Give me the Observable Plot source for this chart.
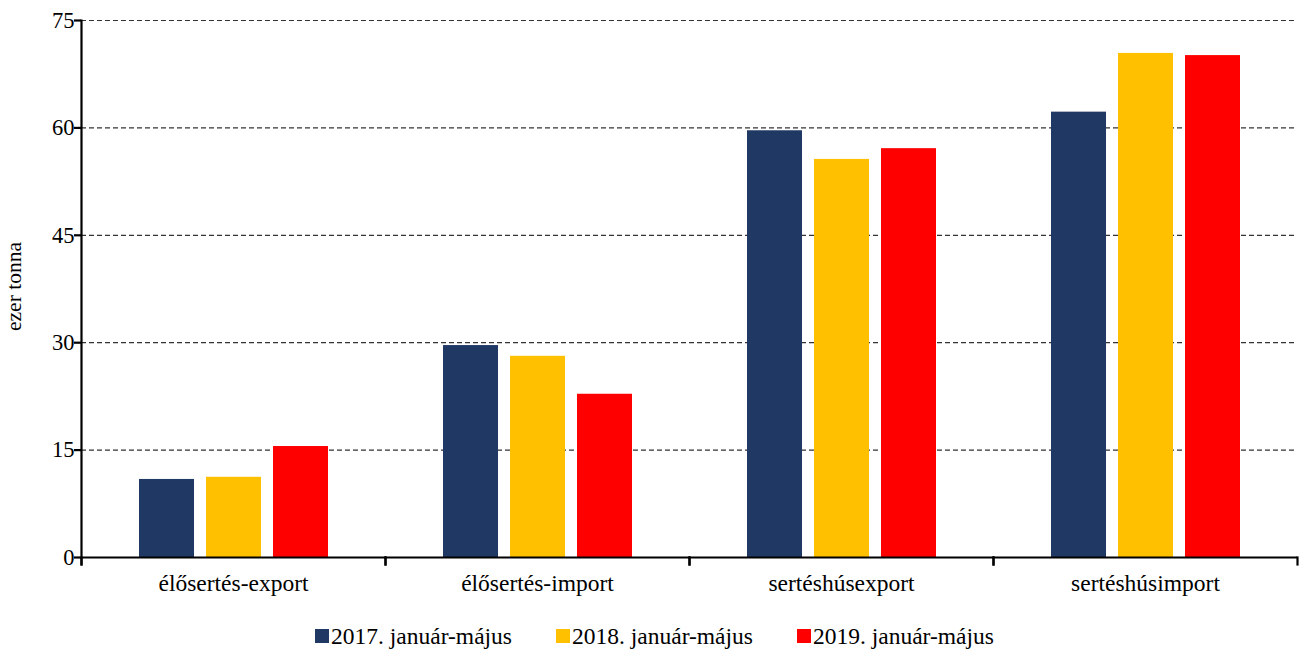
<!DOCTYPE html>
<html>
<head>
<meta charset="utf-8">
<script src="https://cdn.jsdelivr.net/npm/d3@7"></script>
<script src="https://cdn.jsdelivr.net/npm/@observablehq/plot@0.6"></script>
<style>
  html, body { margin: 0; padding: 0; background: #fff; }
  #chart { width: 1305px; height: 610px; }
  .legend { display: flex; justify-content: center; align-items: center; gap: 44px;
    font-family: "Liberation Serif", "Times New Roman", serif; font-size: 23.5px; color: #000;
    height: 40px; padding-top: 6px; padding-left: 4px; }
  .legend .item { display: flex; align-items: center; }
  .legend .sw { width: 14px; height: 14px; margin-right: 2px; display: inline-block; }
</style>
</head>
<body>
<div id="chart"></div>
<script>
const categories = ["élősertés-export", "élősertés-import", "sertéshúsexport", "sertéshúsimport"];
const years = ["2017. január-május", "2018. január-május", "2019. január-május"];
const v2017 = [10.9, 29.6, 59.6, 62.2];
const v2018 = [11.2, 28.1, 55.6, 70.4];
const v2019 = [15.5, 22.8, 57.1, 70.1];
const yTicks = [0, 15, 30, 45, 60, 75];
const colors = ["#203864", "#FFC000", "#FF0000"];

const series = [v2017, v2018, v2019];
const data = categories.flatMap((c, i) => series.map((vals, j) => ({category: c, year: years[j], value: vals[i]})));

const H = 610, MT = 20, MB = 53;
const plotH = H - MT - MB;

const chart = Plot.plot({
  width: 1305,
  height: H,
  marginTop: MT,
  marginBottom: MB,
  marginLeft: 81,
  marginRight: 8,
  style: {fontFamily: "'Liberation Serif', 'Times New Roman', serif", fontSize: "22px", color: "#000", background: "#fff"},
  fx: {domain: categories, padding: 0, label: null},
  x: {domain: years, paddingInner: 0.185, paddingOuter: 0.845, axis: null},
  y: {domain: [0, 75], label: null},
  color: {domain: years, range: colors},
  marks: [
    Plot.gridY(yTicks.filter(d => d > 0), {stroke: "#333", strokeOpacity: 1, strokeWidth: 1.2, strokeDasharray: "5,3"}),
    Plot.barY(data, {fx: "category", x: "year", y: "value", fill: "year"}),
    Plot.ruleY([0], {stroke: "#000", strokeWidth: 2.2}),
    Plot.frame({anchor: "left", facetAnchor: "left", stroke: "#000", strokeWidth: 2.2, insetBottom: -7}),
    Plot.frame({anchor: "left", stroke: "#000", strokeWidth: 2.2, insetTop: plotH, insetBottom: -7}),
    Plot.frame({anchor: "right", stroke: "#000", strokeWidth: 2.2, insetTop: plotH, insetBottom: -7}),
    Plot.axisY({ticks: yTicks, tickSize: 7, tickPadding: 0, strokeWidth: 2.2, fontSize: 22.5, label: null}),
    Plot.axisFx({anchor: "bottom", tickSize: 0, tickPadding: 17, fontSize: 23.5, label: null})
  ]
});
document.getElementById("chart").appendChild(chart);

// y label
const svg = d3.select(chart);
svg.append("text")
  .attr("transform", `translate(21, ${MT + plotH / 2 - 2}) rotate(-90)`)
  .attr("text-anchor", "middle")
  .attr("font-family", "'Liberation Serif', 'Times New Roman', serif")
  .attr("font-size", 21.5)
  .attr("fill", "#000")
  .text("ezer tonna");

// legend
const legend = d3.select("body").append("div").attr("class", "legend");
years.forEach((y, i) => {
  const it = legend.append("div").attr("class", "item");
  it.append("span").attr("class", "sw").style("background", colors[i]);
  it.append("span").text(y);
});
</script>
</body>
</html>
